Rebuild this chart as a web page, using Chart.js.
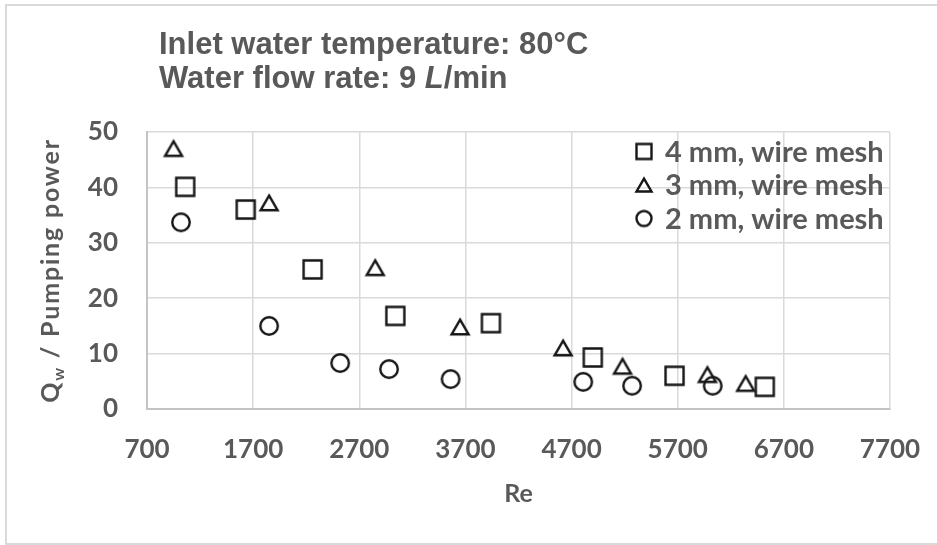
<!DOCTYPE html>
<html>
<head>
<meta charset="utf-8">
<script src="https://cdn.jsdelivr.net/npm/chart.js@4.4.0/dist/chart.umd.min.js"></script>
<style>
  html, body { margin: 0; padding: 0; background: #ffffff; }
  #wrap { width: 937px; height: 545px; position: relative; }
</style>
</head>
<body>
<div id="wrap"><canvas id="c" width="937" height="545"></canvas></div>
<script>
// Series: Re vs. Q_w / pumping power for three wire-mesh sizes
const seriesLabels = ['4 mm, wire mesh', '3 mm, wire mesh', '2 mm, wire mesh'];
const re4mm = [1060, 1630, 2260, 3040, 3940, 4900, 5670, 6520];
const q4mm  = [40.1, 36.0, 25.2, 16.8, 15.5, 9.3, 6.0, 4.0];
const re3mm = [950, 1850, 2850, 3650, 4620, 5180, 5980, 6340];
const q3mm  = [47.0, 37.2, 25.5, 14.8, 11.0, 7.7, 6.2, 4.6];
const re2mm = [1020, 1850, 2520, 2980, 3560, 4810, 5270, 6030];
const q2mm  = [33.7, 15.0, 8.3, 7.2, 5.4, 4.9, 4.2, 4.2];

// Axis ticks
const xTicks = [700, 1700, 2700, 3700, 4700, 5700, 6700, 7700];
const yTicks = [0, 10, 20, 30, 40, 50];

// Text
const titleLine1 = 'Inlet water temperature: 80\u00B0C';
const titleLine2 = ['Water flow rate: 9 ', 'L', '/min']; // middle part italic
const xTitle = 'Re';
const yTitleMain = 'Q';
const yTitleSub = 'w';
const yTitleRest = ' / Pumping power';

const INK = '#161616';
const TEXT = '#595959';
const LATO = 'Lato, "Open Sans", sans-serif';

// Outlined marker drawn into its own small canvas, centred on its bounding box
function markerCanvas(shape, size, lw) {
  const s = Math.ceil(size + lw + 6);
  const c = document.createElement('canvas');
  c.width = s; c.height = s;
  const g = c.getContext('2d');
  g.strokeStyle = INK;
  g.lineWidth = lw;
  g.lineJoin = 'miter';
  const m = s / 2, h = size / 2;
  g.beginPath();
  if (shape === 'square') {
    g.rect(m - h, m - h, size, size);
  } else if (shape === 'circle') {
    g.arc(m, m, h, 0, Math.PI * 2);
  } else {
    const th = size * 0.86;
    g.moveTo(m, m - th / 2);
    g.lineTo(m + h, m + th / 2);
    g.lineTo(m - h, m + th / 2);
    g.closePath();
  }
  g.stroke();
  return c;
}

const plotMarkers = [markerCanvas('square', 18, 2.4), markerCanvas('triangle', 17, 2.4), markerCanvas('circle', 17.5, 2.4)];
const legendMarkers = [markerCanvas('square', 15, 2.4), markerCanvas('triangle', 15, 2.4), markerCanvas('circle', 15, 2.4)];

function toPoints(xs, ys) { return xs.map((x, i) => ({ x: x, y: ys[i] })); }

// White background and the light frame around the figure
const framePlugin = {
  id: 'frame',
  beforeDraw(chart) {
    const ctx = chart.ctx;
    ctx.save();
    ctx.fillStyle = '#ffffff';
    ctx.fillRect(0, 0, chart.width, chart.height);
    ctx.strokeStyle = '#d9d9d9';
    ctx.lineWidth = 2;
    ctx.strokeRect(6, 5, chart.width + 10, chart.height - 6);
    ctx.restore();
  }
};

// Two-line heading with the italic litre symbol
const headingPlugin = {
  id: 'heading',
  afterDraw(chart) {
    const ctx = chart.ctx;
    ctx.save();
    ctx.fillStyle = TEXT;
    ctx.textBaseline = 'alphabetic';
    ctx.textAlign = 'left';
    const x0 = 159;
    const regular = 'bold 31px "Liberation Sans", Arial, sans-serif';
    const italic = 'italic bold 31px "Liberation Sans", Arial, sans-serif';
    ctx.font = regular;
    ctx.fillText(titleLine1, x0, 54);
    let x = x0;
    const y2 = 88;
    ctx.fillText(titleLine2[0], x, y2); x += ctx.measureText(titleLine2[0]).width;
    ctx.font = italic;
    ctx.fillText(titleLine2[1], x, y2); x += ctx.measureText(titleLine2[1]).width;
    ctx.font = regular;
    ctx.fillText(titleLine2[2], x, y2);
    ctx.restore();
  }
};

// Rotated y-axis title with subscript
const yTitlePlugin = {
  id: 'yTitle',
  afterDraw(chart) {
    const ctx = chart.ctx;
    const area = chart.chartArea;
    ctx.save();
    ctx.translate(50, (area.top + area.bottom) / 2);
    ctx.rotate(-Math.PI / 2);
    ctx.fillStyle = TEXT;
    ctx.textBaseline = 'alphabetic';
    ctx.textAlign = 'left';
    if ('letterSpacing' in ctx) ctx.letterSpacing = '1.8px';
    const big = 'bold 25px ' + LATO;
    const small = 'bold 16px ' + LATO;
    ctx.font = big;
    const wQ = ctx.measureText(yTitleMain).width;
    const wR = ctx.measureText(yTitleRest).width;
    ctx.font = small;
    const wS = ctx.measureText(yTitleSub).width;
    let x = -(wQ + wS + wR) / 2;
    const base = 9;
    ctx.font = big;
    ctx.fillText(yTitleMain, x, base); x += wQ;
    ctx.font = small;
    ctx.fillText(yTitleSub, x, base + 5); x += wS;
    ctx.font = big;
    ctx.fillText(yTitleRest, x, base);
    ctx.restore();
  }
};

// Legend in the upper right of the plot area
const legendPlugin = {
  id: 'cornerLegend',
  afterDraw(chart) {
    const ctx = chart.ctx;
    const area = chart.chartArea;
    ctx.save();
    ctx.font = 'bold 29px ' + LATO;
    ctx.fillStyle = TEXT;
    ctx.textAlign = 'left';
    ctx.textBaseline = 'alphabetic';
    const mx = area.right - 246;
    const tx = area.right - 225;
    chart.data.datasets.forEach((ds, i) => {
      const cy = area.top + 19.5 + i * 33.5;
      const m = legendMarkers[i];
      ctx.drawImage(m, mx - m.width / 2, cy - m.height / 2);
      ctx.fillText(ds.label, tx, cy + 10);
    });
    ctx.restore();
  }
};

const tickFont = { family: LATO, size: 26, weight: 'bold' };

new Chart(document.getElementById('c'), {
  type: 'scatter',
  data: {
    datasets: [
      { label: seriesLabels[0], data: toPoints(re4mm, q4mm), pointStyle: plotMarkers[0], pointRadius: 10 },
      { label: seriesLabels[1], data: toPoints(re3mm, q3mm), pointStyle: plotMarkers[1], pointRadius: 10 },
      { label: seriesLabels[2], data: toPoints(re2mm, q2mm), pointStyle: plotMarkers[2], pointRadius: 10 }
    ]
  },
  options: {
    responsive: false,
    animation: false,
    devicePixelRatio: 1,
    layout: { padding: { left: 0, right: 47, top: 132, bottom: 0 } },
    plugins: {
      legend: { display: false },
      title: { display: false },
      tooltip: { enabled: false }
    },
    scales: {
      x: {
        type: 'linear',
        min: xTicks[0],
        max: xTicks[xTicks.length - 1],
        afterBuildTicks(scale) { scale.ticks = xTicks.map(v => ({ value: v })); },
        afterFit(scale) { scale.height = 136; scale.paddingLeft = 0; scale.paddingRight = 0; },
        ticks: {
          callback: v => String(v),
          font: tickFont,
          color: TEXT,
          padding: 25,
          maxRotation: 0,
          autoSkip: false
        },
        grid: { color: '#dadada', lineWidth: 1.5, drawTicks: false },
        border: { color: '#c4c4c4', width: 2 },
        title: {
          display: true,
          text: xTitle,
          font: { family: LATO, size: 25, weight: 'bold' },
          color: TEXT,
          padding: { top: 0, bottom: 36 }
        }
      },
      y: {
        type: 'linear',
        min: yTicks[0],
        max: yTicks[yTicks.length - 1],
        afterBuildTicks(scale) { scale.ticks = yTicks.map(v => ({ value: v })); },
        afterFit(scale) { scale.width = 147; scale.paddingTop = 0; scale.paddingBottom = 0; },
        ticks: {
          font: tickFont,
          color: TEXT,
          padding: 29
        },
        grid: { color: '#dadada', lineWidth: 1.5, drawTicks: false },
        border: { color: '#c4c4c4', width: 2 }
      }
    }
  },
  plugins: [framePlugin, headingPlugin, yTitlePlugin, legendPlugin]
});
</script>
</body>
</html>
